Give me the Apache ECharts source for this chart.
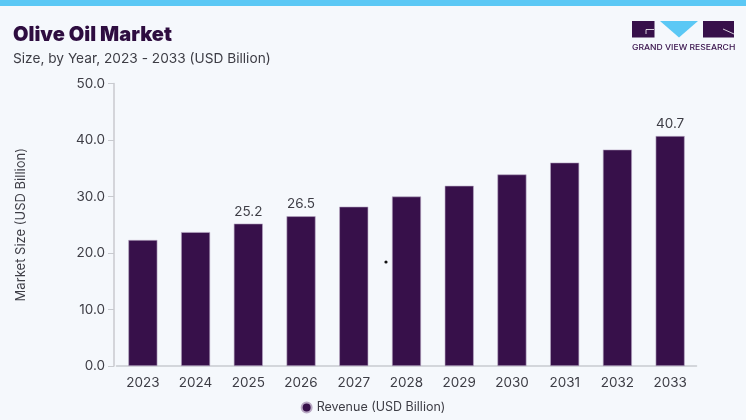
<!DOCTYPE html>
<html>
<head>
<meta charset="utf-8">
<script src="https://cdn.jsdelivr.net/npm/echarts@6/dist/echarts.min.js"></script>
<style>
    html, body { margin: 0; padding: 0; background: #f5f8fc; }
    #main { width: 746px; height: 420px; }
</style>
</head>
<body>
<div id="main"></div>
<script>
// 数据
var years = ['2023', '2024', '2025', '2026', '2027', '2028', '2029', '2030', '2031', '2032', '2033'];
var revenue = [22.3, 23.7, 25.2, 26.5, 28.2, 30.0, 31.9, 33.9, 36.0, 38.3, 40.7];
var labelled = ['2025', '2026', '2033'];
var yTicks = [0, 10, 20, 30, 40, 50];

var barColor = '#37104a';
var textColor = '#3d3d45';

var myChart = echarts.init(document.getElementById('main'));

var barData = revenue.map(function (v, i) {
    return {
        value: v,
        label: { show: labelled.indexOf(years[i]) >= 0 }
    };
});

option = {
    backgroundColor: '#f5f8fc',
    textStyle: { fontFamily: 'Inter, "Noto Sans", sans-serif' },
    title: [
        {
            text: 'Olive Oil Market',
            left: 8, top: 20,
            textStyle: { fontSize: 20, fontWeight: 900, color: '#2e0d40', fontFamily: 'Inter' }
        },
        {
            text: 'Size, by Year, 2023 - 2033 (USD Billion)',
            left: 8, top: 47,
            textStyle: { fontSize: 13.7, fontWeight: 'normal', color: '#3d3d45', fontFamily: 'Inter' }
        }
    ],
    legend: {
        top: 396,
        left: 'center',
        icon: 'circle',
        itemWidth: 10,
        itemHeight: 10,
        textStyle: { fontSize: 12.5, color: textColor },
        data: ['Revenue (USD Billion)']
    },
    grid: {
        left: 116.5, right: 49.5, top: 83.5, bottom: 54
    },
    xAxis: {
        type: 'category',
        data: years,
        axisLine: { lineStyle: { color: '#c8cacf', width: 1.5 } },
        axisTick: { show: false },
        axisLabel: { fontSize: 13.5, color: textColor, margin: 10 }
    },
    yAxis: {
        type: 'value',
        min: 0, max: 50, interval: 10,
        offset: 2.5,
        name: 'Market Size (USD Billion)',
        nameLocation: 'middle',
        nameGap: 86,
        nameTextStyle: { fontSize: 13, color: textColor },
        splitLine: { show: false },
        axisLine: { show: true, lineStyle: { color: '#c8cacf', width: 1.5 } },
        axisTick: { show: true, length: 6, lineStyle: { color: '#c8cacf' } },
        axisLabel: {
            fontSize: 13.5, color: textColor, margin: 9,
            formatter: function (v) { return yTicks.indexOf(v) >= 0 ? v.toFixed(1) : ''; }
        }
    },
    series: [
        {
            name: 'Revenue (USD Billion)',
            type: 'bar',
            data: barData,
            barWidth: 29,
            itemStyle: { color: barColor, borderColor: '#b9a9c4', borderWidth: 0.6 },
            label: {
                position: 'top',
                distance: 5,
                fontSize: 13.5,
                color: textColor,
                formatter: function (p) { return p.value.toFixed(1); }
            }
        }
    ],
    graphic: [
        // 顶部蓝条
        { type: 'rect', left: 0, top: 0, shape: { width: 746, height: 6 }, style: { fill: '#5bc8f5' } },
        // logo
        { type: 'rect', left: 632, top: 21, shape: { width: 22.5, height: 16.5 }, style: { fill: '#37104a' } },
        { type: 'polyline', shape: { points: [[646, 34], [646, 29.5], [654, 29.5]] }, style: { stroke: '#ffffff', lineWidth: 0.8, fill: null } },
        { type: 'polygon', shape: { points: [[660, 21], [698, 21], [679, 37.5]] }, style: { fill: '#5bc8f5' } },
        { type: 'rect', left: 703, top: 21, shape: { width: 31, height: 16.5 }, style: { fill: '#37104a' } },
        { type: 'line', shape: { x1: 723, y1: 29, x2: 734, y2: 34 }, style: { stroke: '#ffffff', lineWidth: 0.8 } },
        {
            type: 'text', x: 632, y: 44, scaleX: 1.13, originX: 0,
            style: { text: 'GRAND VIEW RESEARCH', fontSize: 7.6, fontWeight: 500, fill: '#37104a', fontFamily: 'Inter' }
        },
        // 图中的小黑点
        { type: 'circle', shape: { cx: 386, cy: 262, r: 1.6 }, style: { fill: '#111111' } }
    ]
};

myChart.setOption(option);
</script>
</body>
</html>
